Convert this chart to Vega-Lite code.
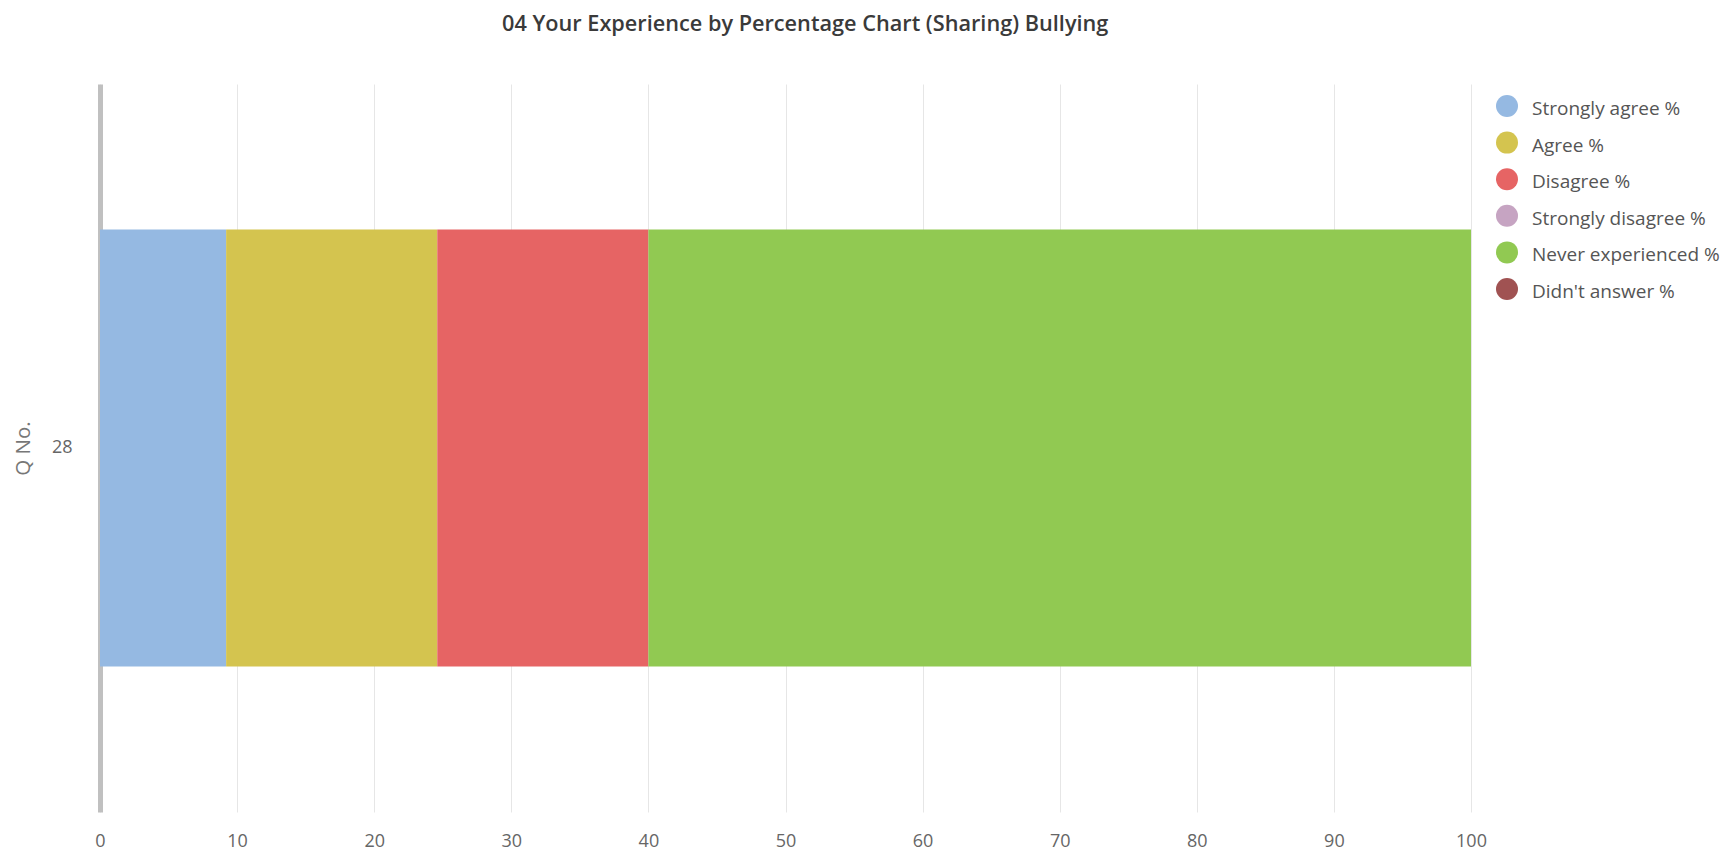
{
  "$schema": "https://vega.github.io/schema/vega-lite/v6.json",
  "autosize": "none",
  "width": 1371,
  "height": 728,
  "padding": {"left": 100, "top": 84, "right": 250, "bottom": 40},
  "background": "white",
  "title": {
    "text": "04 Your Experience by Percentage Chart (Sharing) Bullying",
    "anchor": "start",
    "frame": "group",
    "dx": 402,
    "offset": 48,
    "font": "Open Sans",
    "fontSize": 21.7,
    "fontWeight": 600,
    "color": "#3a3a3a"
  },
  "data": {
    "values": [
      {"q": "28", "category": "Strongly agree %", "rank": 1, "value": 9.2},
      {"q": "28", "category": "Agree %", "rank": 2, "value": 15.4},
      {"q": "28", "category": "Disagree %", "rank": 3, "value": 15.4},
      {"q": "28", "category": "Strongly disagree %", "rank": 4, "value": 0},
      {"q": "28", "category": "Never experienced %", "rank": 5, "value": 60},
      {"q": "28", "category": "Didn't answer %", "rank": 6, "value": 0}
    ]
  },
  "mark": {"type": "bar"},
  "encoding": {
    "x": {
      "field": "value",
      "type": "quantitative",
      "stack": "zero",
      "scale": {"domain": [0, 100], "nice": false},
      "axis": {
        "title": null,
        "values": [0, 10, 20, 30, 40, 50, 60, 70, 80, 90, 100],
        "domain": false,
        "ticks": false,
        "grid": true,
        "gridColor": "#e6e6e6",
        "gridWidth": 1,
        "labelFont": "Open Sans",
        "labelFontSize": 18,
        "labelColor": "#666666",
        "labelPadding": 20,
        "labelFlush": false
      }
    },
    "y": {
      "field": "q",
      "type": "nominal",
      "scale": {"paddingInner": 0.4, "paddingOuter": 0.2},
      "axis": {
        "title": "Q No.",
        "titleFont": "Open Sans",
        "titleFontSize": 20.5,
        "titleFontWeight": "normal",
        "titleColor": "#777777",
        "titlePadding": 18,
        "labelAngle": 0,
        "labelFont": "Open Sans",
        "labelFontSize": 18,
        "labelColor": "#666666",
        "labelPadding": 28,
        "ticks": false,
        "domain": true,
        "domainColor": "#c0c0c0",
        "domainWidth": 5
      }
    },
    "color": {
      "field": "category",
      "type": "nominal",
      "scale": {
        "domain": ["Strongly agree %", "Agree %", "Disagree %", "Strongly disagree %", "Never experienced %", "Didn't answer %"],
        "range": ["#95b9e2", "#d4c44f", "#e66464", "#c6a4c2", "#91c952", "#a05252"]
      },
      "legend": {
        "title": null,
        "orient": "none",
        "legendX": 1396,
        "legendY": 11,
        "symbolType": "circle",
        "symbolSize": 484,
        "symbolStrokeWidth": 0,
        "symbolOpacity": 1,
        "labelFont": "Open Sans",
        "labelFontSize": 19,
        "labelColor": "#555555",
        "labelOffset": 14,
        "labelLimit": 260,
        "rowPadding": 12.6,
        "padding": 0,
        "encoding": {"labels": {"dy": {"value": 3}}}
      }
    },
    "order": {"field": "rank", "type": "quantitative"}
  },
  "config": {"view": {"stroke": null}}
}
